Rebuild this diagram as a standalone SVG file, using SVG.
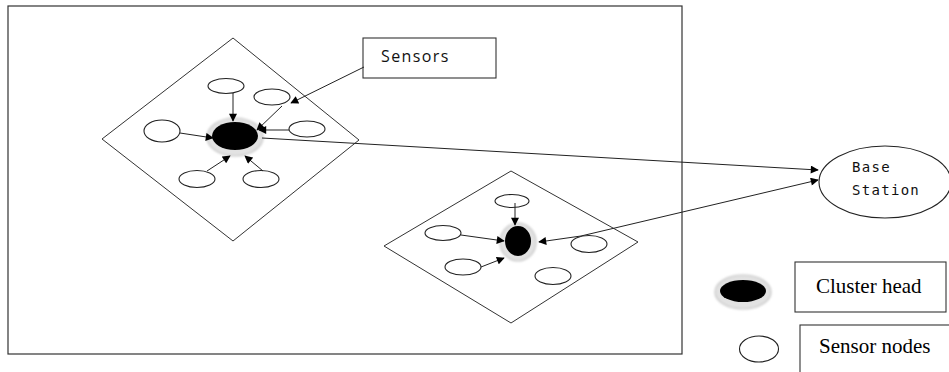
<svg xmlns="http://www.w3.org/2000/svg" width="949" height="372" viewBox="0 0 949 372">
  <style>
    .frame { fill: #fff; stroke: #333; stroke-width: 1.2; }
    .zone { fill: none; stroke: #333; stroke-width: 1; }
    .sensor { fill: #fff; stroke: #222; stroke-width: 1.1; }
    .head { fill: #000; }
    .halo { fill: #e2e2e2; stroke: #c4c4c4; stroke-width: 1.2; }
    .link { fill: none; stroke: #222; stroke-width: 1; marker-end: url(#arrow); }
    .label-box { fill: #fff; stroke: #333; stroke-width: 1.1; }
    .mono { font-family: "DejaVu Sans Mono", monospace; font-size: 14px; fill: #111; letter-spacing: 1.3px; }
    .sans { font-family: "Open Sans", "Noto Sans", sans-serif; font-size: 16px; fill: #111; letter-spacing: 1.4px; }
    .serif { font-family: "Liberation Serif", "Times New Roman", serif; font-size: 21px; fill: #000; }
  </style>
  <defs>
    <marker id="arrow" viewBox="0 0 10 10" refX="9" refY="5" markerWidth="9" markerHeight="8" markerUnits="userSpaceOnUse" orient="auto">
      <path d="M0,0 L10,5 L0,10 z" fill="#000"/>
    </marker>
    <filter id="soft" x="-30%" y="-30%" width="160%" height="160%">
      <feGaussianBlur stdDeviation="0.8"/>
    </filter>
  </defs>

  <!-- sensing field -->
  <rect id="field" class="frame" x="8" y="6" width="674" height="348"/>

  <!-- cluster 1 -->
  <g id="cluster1">
    <polygon class="zone" points="233,38 359,140 233,241 102,139"/>
    <ellipse class="halo" cx="235" cy="137" rx="28" ry="19" filter="url(#soft)"/>
    <ellipse class="head" cx="235" cy="136" rx="23" ry="14"/>
    <ellipse class="sensor" cx="226" cy="86" rx="18" ry="7.5"/>
    <ellipse class="sensor" cx="272" cy="97" rx="18" ry="8"/>
    <ellipse class="sensor" cx="307" cy="129" rx="18" ry="8"/>
    <ellipse class="sensor" cx="162" cy="131" rx="18" ry="11"/>
    <ellipse class="sensor" cx="197" cy="179" rx="18" ry="8.5"/>
    <ellipse class="sensor" cx="261" cy="179" rx="18" ry="8.5"/>
  </g>

  <!-- cluster 2 -->
  <g id="cluster2">
    <polygon class="zone" points="511,171 638,242 511,323 384,246"/>
    <ellipse class="halo" cx="518" cy="242" rx="18" ry="19" filter="url(#soft)"/>
    <ellipse class="head" cx="518" cy="241" rx="13" ry="15"/>
    <ellipse class="sensor" cx="512" cy="201" rx="17" ry="6.5"/>
    <ellipse class="sensor" cx="443" cy="233" rx="18" ry="7.5"/>
    <ellipse class="sensor" cx="463" cy="267" rx="18" ry="8"/>
    <ellipse class="sensor" cx="589" cy="244" rx="18" ry="8.5"/>
    <ellipse class="sensor" cx="553" cy="276" rx="18" ry="8.5"/>
  </g>

  <!-- callout -->
  <g id="sensors-label">
    <rect class="label-box" x="363" y="38" width="133" height="40"/>
    <text class="sans" x="381" y="62">Sensors</text>
  </g>

  <!-- base station -->
  <g id="base-station">
    <ellipse class="sensor" cx="885" cy="182" rx="66" ry="36"/>
    <text class="mono" x="852" y="172">Base</text>
    <text class="mono" x="852" y="195">Station</text>
  </g>

  <!-- legend -->
  <g id="legend-head">
    <ellipse class="halo" cx="743" cy="292" rx="28" ry="17" filter="url(#soft)"/>
    <ellipse class="head" cx="743" cy="291" rx="23" ry="11"/>
    <rect class="label-box" x="795" y="262" width="151" height="50"/>
    <text class="serif" x="816" y="293">Cluster head</text>
  </g>
  <g id="legend-sensor">
    <ellipse class="sensor" cx="759" cy="349" rx="19.5" ry="13"/>
    <rect class="label-box" x="800" y="325" width="160" height="60"/>
    <text class="serif" x="819" y="353">Sensor nodes</text>
  </g>

  <!-- connectors -->
  <g id="connectors">
    <!-- cluster 1 members to head -->
    <line class="link" x1="233" y1="93" x2="233" y2="121"/>
    <line class="link" x1="180" y1="133" x2="213" y2="138"/>
    <line class="link" x1="289" y1="130" x2="259" y2="130"/>
    <line class="link" x1="207" y1="171" x2="230" y2="156"/>
    <line class="link" x1="263" y1="171" x2="245" y2="156"/>
    <line class="link" x1="282" y1="106" x2="257" y2="130"/>
    <!-- callout pointer -->
    <line class="link" x1="364" y1="67" x2="291" y2="103"/>
    <!-- cluster 2 members to head -->
    <line class="link" x1="515" y1="203" x2="515" y2="225"/>
    <line class="link" x1="461" y1="235" x2="504" y2="241"/>
    <line class="link" x1="481" y1="267" x2="504" y2="258"/>
    <!-- heads to base station -->
    <line class="link" x1="262" y1="138" x2="818" y2="170"/>
    <line class="link" x1="581" y1="236" x2="818" y2="180"/>
    <line class="link" x1="581" y1="236" x2="539" y2="242"/>
  </g>
</svg>
